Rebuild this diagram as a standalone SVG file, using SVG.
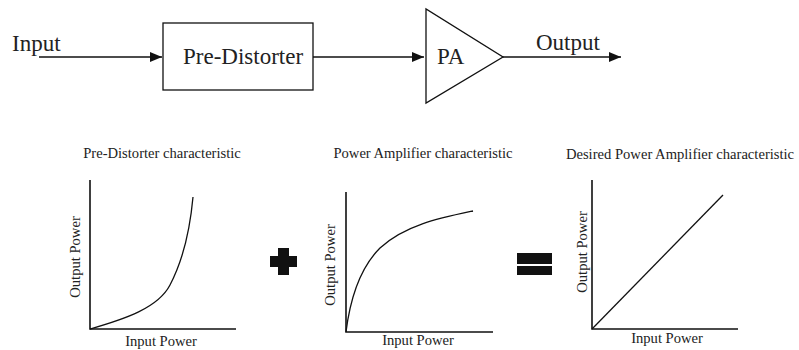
<svg xmlns="http://www.w3.org/2000/svg" width="799" height="350" viewBox="0 0 799 350">
<style>
text{font-family:'Liberation Serif','DejaVu Serif',serif;fill:#222}
.big{font-size:23px}
.sm{font-size:14.6px}
.ln{stroke:#111;stroke-width:1.3;fill:none}
.ax{stroke:#111;stroke-width:1.6;fill:none}
.cv{stroke:#111;stroke-width:1.3;fill:none}
</style>
<defs>
<marker id="ah" viewBox="0 0 12 10" refX="12" refY="5" markerWidth="12" markerHeight="10" markerUnits="userSpaceOnUse" orient="auto">
<path d="M0,0 L12,5 L0,10 z" fill="#111"/>
</marker>
</defs>
<g id="connectors">
<line class="ln" x1="39" y1="57" x2="162" y2="57" marker-end="url(#ah)"/>
<line class="ln" x1="313" y1="57" x2="424" y2="57" marker-end="url(#ah)"/>
<line class="ln" x1="503" y1="57" x2="621" y2="57" marker-end="url(#ah)"/>
</g>
<g id="input"><text class="big" x="12" y="51" font-family="Liberation Serif">Input</text></g>
<g id="predistorter">
<rect x="163" y="23" width="150" height="67" fill="#fff" stroke="#111" stroke-width="1.3"/>
<text class="big" x="183" y="64">Pre-Distorter</text>
</g>
<g id="pa">
<polygon points="426,9 426,103 503,57" fill="#fff" stroke="#111" stroke-width="1.3"/>
<text class="big" x="437" y="64">PA</text>
</g>
<g id="output"><text class="big" x="536" y="50">Output</text></g>

<g id="chart1">
<text class="sm" x="162" y="158" text-anchor="middle">Pre-Distorter characteristic</text>
<polyline class="ax" points="90,180 90,329 236,329"/>
<path class="cv" d="M90,329 C125,319 158,308 170,285 C182,262 190,230 193,197"/>
<text class="sm" transform="translate(80,257) rotate(-90)" text-anchor="middle">Output Power</text>
<text class="sm" x="161" y="346" text-anchor="middle">Input Power</text>
</g>
<g id="plus">
<rect x="278" y="248" width="11" height="27" fill="#111"/>
<rect x="270" y="256" width="27" height="11" fill="#111"/>
</g>
<g id="chart2">
<text class="sm" x="423" y="158" text-anchor="middle">Power Amplifier characteristic</text>
<polyline class="ax" points="346,192 346,332 493,332"/>
<path class="cv" d="M346,332 C350,300 360,268 380,248 C405,225 440,218 473,211"/>
<text class="sm" transform="translate(335,265) rotate(-90)" text-anchor="middle">Output Power</text>
<text class="sm" x="418" y="345" text-anchor="middle">Input Power</text>
</g>
<g id="equals">
<rect x="517" y="253" width="35" height="11" fill="#111"/>
<rect x="517" y="266" width="35" height="9" fill="#111"/>
</g>
<g id="chart3">
<text class="sm" x="680" y="159" text-anchor="middle">Desired Power Amplifier characteristic</text>
<polyline class="ax" points="592,180 592,329 738,329"/>
<line class="cv" x1="592" y1="329" x2="723" y2="195"/>
<text class="sm" transform="translate(587,252) rotate(-90)" text-anchor="middle">Output Power</text>
<text class="sm" x="667" y="343" text-anchor="middle">Input Power</text>
</g>
</svg>
